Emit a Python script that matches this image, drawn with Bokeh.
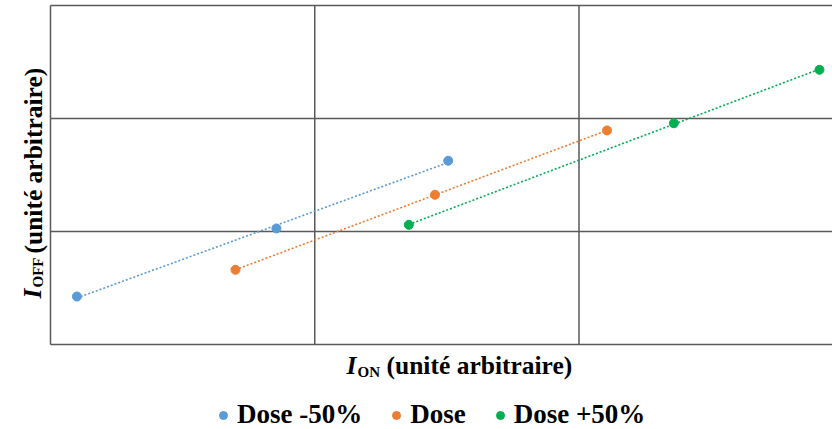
import numpy as np
from bokeh.plotting import figure
from bokeh.models import Label, Legend, LegendItem, Range1d
from bokeh.embed import file_html
from bokeh.resources import INLINE

# Data (arbitrary units)
series_names = ["Dose -50%", "Dose", "Dose +50%"]
blue_x = [0.10, 0.855, 1.505]
blue_y = [0.425, 1.027, 1.626]
orange_x = [0.70, 1.455, 2.106]
orange_y = [0.661, 1.325, 1.894]
green_x = [1.356, 2.359, 2.910]
green_y = [1.059, 1.958, 2.431]
axis_min = 0
axis_max = 3
grid_x = [1, 2]
grid_y = [1, 2]

colors = ["#5B9BD5", "#ED7D31", "#00B050"]
FONT = "Liberation Serif"
GRID = "#595959"

W, H = 832, 429
PX_X, PX_Y = 264.25, 113.0       # pixels per unit
LEFT, BOTTOM = 50, 85            # plot-area offsets inside the canvas

p = figure(width=W, height=H, output_backend="svg", toolbar_location=None,
           x_range=Range1d(-LEFT / PX_X, (W - LEFT) / PX_X),
           y_range=Range1d(-BOTTOM / PX_Y, (H - BOTTOM) / PX_Y),
           min_border=0, x_axis_location=None, y_axis_location=None)
p.outline_line_color = None
p.grid.visible = False
p.background_fill_color = "white"
p.border_fill_color = "white"

# plot-area grid and frame
gx = grid_x
p.segment(x0=gx, y0=[axis_min] * len(gx), x1=gx, y1=[axis_max] * len(gx),
          line_color=GRID, line_width=1.5)
gy = grid_y
p.segment(x0=[axis_min] * len(gy), y0=gy, x1=[axis_max] * len(gy), y1=gy,
          line_color=GRID, line_width=1.5)
p.segment(x0=[axis_min, axis_min, axis_min], y0=[axis_min, axis_min, axis_max],
          x1=[axis_min, axis_max, axis_max], y1=[axis_max, axis_min, axis_max],
          line_color=GRID, line_width=1.5)

items = []
for name, xs, ys, c in zip(series_names, [blue_x, orange_x, green_x],
                           [blue_y, orange_y, green_y], colors):
    k, b = np.polyfit(xs, ys, 1)
    lx = [min(xs), max(xs)]
    p.line(lx, [k * v + b for v in lx], line_color=c, line_width=1.6,
           line_dash="2 2")
    r = p.scatter(xs, ys, size=9, fill_color=c, line_color=c)
    items.append(LegendItem(label=name, renderers=[r]))

legend = Legend(items=items, orientation="horizontal", location=(213, -1),
                label_text_font=FONT, label_text_font_style="bold",
                label_text_font_size="27px", label_text_color="black",
                glyph_width=20, glyph_height=20, label_standoff=4, spacing=24,
                padding=0, margin=0, border_line_color=None,
                background_fill_alpha=0)
p.add_layout(legend)

def lab(text, cx, cy, size, style="bold", angle=0):
    # cx, cy: canvas pixels from the top-left corner
    p.add_layout(Label(text=text, x=cx, y=H - cy, x_units="screen",
                       y_units="screen", text_font=FONT,
                       text_font_style=style, text_font_size=size,
                       text_color="black", text_baseline="alphabetic",
                       text_align="left", angle=angle))

# x title: I_ON (unité arbitraire)
lab("I", 346, 365, "25.5px", "bold italic")
lab("ON", 357, 371, "15px")
lab("(unité arbitraire)", 386, 365, "25.5px")
# y title: I_OFF (unité arbitraire)
lab("I", 32, 298, "25.5px", "bold italic", np.pi / 2)
lab("OFF", 37, 287, "15px", "bold", np.pi / 2)
lab("(unité arbitraire)", 33, 253, "25.5px", "bold", np.pi / 2)

open("out.html", "w").write(file_html(p, INLINE))
